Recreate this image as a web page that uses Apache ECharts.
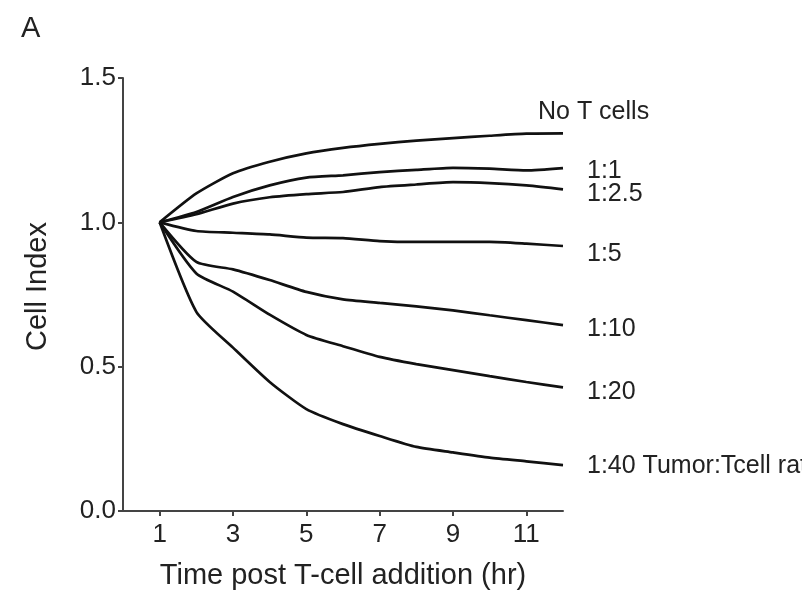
<!DOCTYPE html>
<html>
<head>
<meta charset="utf-8">
<script src="https://cdn.jsdelivr.net/npm/echarts@6/dist/echarts.min.js"></script>
<style>
html,body{margin:0;padding:0;background:#fff;}
#chart{width:802px;height:598px;}
</style>
</head>
<body>
<div id="chart"></div>
<script>
// Time (hr) post T-cell addition
var hours = [1, 2, 3, 4, 5, 6, 7, 8, 9, 10, 11, 12];
var xTicks = [1, 3, 5, 7, 9, 11];
var yTicks = [0, 0.5, 1.0, 1.5];

var seriesNames = ['No T cells', '1:1', '1:2.5', '1:5', '1:10', '1:20', '1:40 Tumor:Tcell ratio'];
var noTcells = [1.0, 1.10, 1.17, 1.21, 1.239, 1.258, 1.272, 1.283, 1.292, 1.300, 1.307, 1.308];
var r1_1     = [1.0, 1.036, 1.088, 1.128, 1.155, 1.163, 1.174, 1.182, 1.189, 1.186, 1.180, 1.188];
var r1_2_5   = [1.0, 1.028, 1.065, 1.087, 1.098, 1.105, 1.122, 1.131, 1.139, 1.136, 1.128, 1.114];
var r1_5     = [1.0, 0.970, 0.964, 0.958, 0.947, 0.945, 0.935, 0.932, 0.932, 0.932, 0.926, 0.918];
var r1_10    = [1.0, 0.863, 0.837, 0.800, 0.759, 0.733, 0.721, 0.709, 0.695, 0.678, 0.661, 0.644];
var r1_20    = [1.0, 0.823, 0.760, 0.680, 0.610, 0.571, 0.534, 0.509, 0.488, 0.467, 0.447, 0.428];
var r1_40    = [1.0, 0.690, 0.566, 0.447, 0.353, 0.301, 0.260, 0.222, 0.203, 0.185, 0.172, 0.159];

var allValues = [noTcells, r1_1, r1_2_5, r1_5, r1_10, r1_20, r1_40];
// label offsets (style only)
var labelOffsets = [[-49, -21], [0, 3], [0, 5], [0, 8], [0, 4], [0, 5], [0, 1]];

var FONT = '"Liberation Sans", Arial, Helvetica, sans-serif';
var TXT = '#222';

function pairs(vals) {
  return hours.map(function (h, i) { return [h, vals[i]]; });
}

var series = allValues.map(function (vals, k) {
  return {
    name: seriesNames[k],
    type: 'line',
    data: pairs(vals),
    showSymbol: false,
    symbol: 'none',
    smooth: 0.2,
    lineStyle: { color: '#111', width: 2.7 },
    silent: true,
    endLabel: {
      show: true,
      formatter: seriesNames[k],
      distance: 24,
      offset: labelOffsets[k],
      color: TXT,
      fontFamily: FONT,
      fontSize: 25
    },
    labelLayout: { hideOverlap: false }
  };
});

var chart = echarts.init(document.getElementById('chart'), null, { renderer: 'canvas' });
chart.setOption({
  animation: false,
  backgroundColor: '#fff',
  title: {
    text: 'A',
    left: 16,
    top: 9,
    textStyle: { fontFamily: FONT, fontSize: 29, fontWeight: 'normal', color: TXT }
  },
  grid: {
    left: 123, right: 239, top: 78, bottom: 87,
    containLabel: false,
    outerBoundsMode: 'none'
  },
  xAxis: {
    type: 'value',
    min: 0,
    max: 12,
    name: 'Time post T-cell addition (hr)',
    nameLocation: 'middle',
    nameGap: 50,
    nameTextStyle: { fontFamily: FONT, fontSize: 29, color: TXT },
    axisLine: { show: true, onZero: false, lineStyle: { color: '#444', width: 2 } },
    axisTick: { show: true, customValues: xTicks, length: 5, lineStyle: { color: '#444', width: 2 } },
    axisLabel: { customValues: xTicks, fontFamily: FONT, fontSize: 26, color: TXT, margin: 11 },
    splitLine: { show: false }
  },
  yAxis: {
    type: 'value',
    min: 0,
    max: 1.5,
    interval: 0.5,
    name: 'Cell Index',
    nameLocation: 'middle',
    nameRotate: 90,
    nameGap: 71,
    nameTextStyle: { fontFamily: FONT, fontSize: 29, color: TXT, padding: [0, 0, 0, 16] },
    axisLine: { show: true, lineStyle: { color: '#444', width: 2 } },
    axisTick: { show: true, length: 5, lineStyle: { color: '#444', width: 2 } },
    axisLabel: {
      customValues: yTicks,
      fontFamily: FONT, fontSize: 26, color: TXT, margin: 7,
      formatter: function (v) { return v.toFixed(1); }
    },
    splitLine: { show: false }
  },
  series: series
});
</script>
</body>
</html>
